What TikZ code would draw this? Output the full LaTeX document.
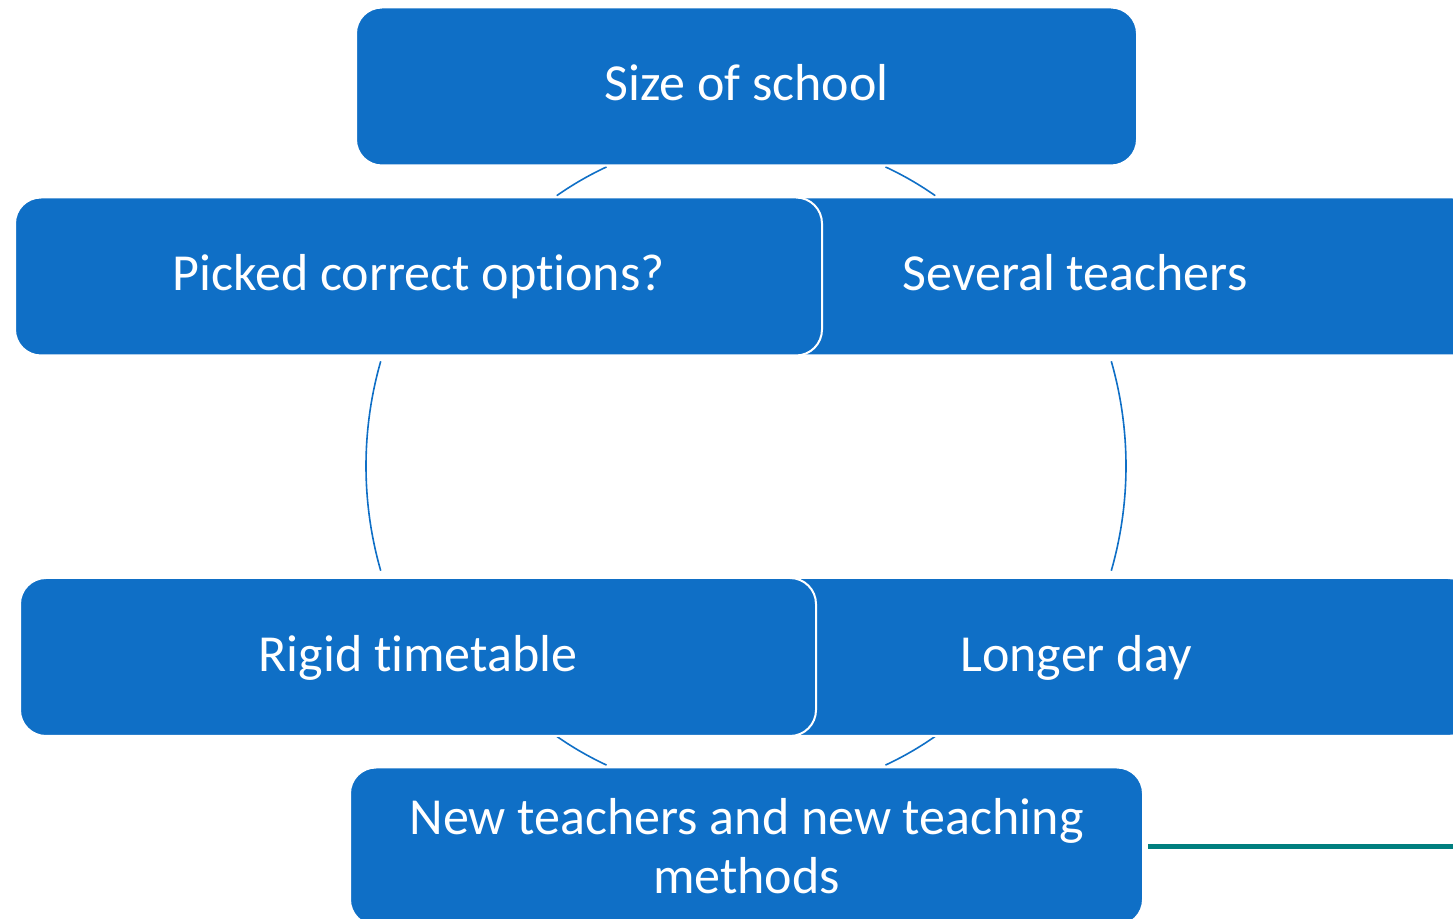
\documentclass[tikz,border=0pt]{standalone}
\usepackage{fontspec}
\setmainfont{Carlito}[Ligatures=NoCommon]
\usepackage{tikz}
\usetikzlibrary{calc,positioning}

\definecolor{cycblue}{HTML}{0F6FC6}
\definecolor{cycteal}{HTML}{007F7F}

\begin{document}
\begin{tikzpicture}[x=0.5pt,y=-0.5pt,
  box/.style={shape=rectangle,rounded corners=13pt,fill=cycblue,draw=white,line width=1pt,
    minimum height=79pt,text=white,align=center,inner sep=0pt,
    font=\fontsize{26}{29.5}\selectfont},
  oneline/.style={text height=20pt,text depth=5.5pt},
  link/.style={draw=cycblue,line width=0.8pt},
  stray/.style={draw=cycteal,line width=2.5pt}]
\clip (0,0) rectangle (1453,919);
\coordinate (c) at (746,466);
% arcs of the cycle
\draw[link] ($(c)+(164:190pt)$) arc[start angle=164,end angle=196,radius=190pt];
\draw[link] ($(c)+(-16:190pt)$) arc[start angle=-16,end angle=16,radius=190pt];
\draw[link] ($(c)+(115:165pt)$) arc[start angle=115,end angle=125,radius=165pt];
\draw[link] ($(c)+(55:165pt)$) arc[start angle=55,end angle=65,radius=165pt];
\draw[link] ($(c)+(235:165pt)$) arc[start angle=235,end angle=245,radius=165pt];
\draw[link] ($(c)+(295:165pt)$) arc[start angle=295,end angle=305,radius=165pt];
% boxes, in the order of the cycle
\node[box,oneline,minimum width=390.5pt] (size) at (746.5,86.5) {Size of school};
\node[box,oneline,minimum width=403.5pt] (several) at (1075,276.5) {Several teachers};
\node[box,oneline,minimum width=398pt] (longer) at (1076,657) {Longer day};
\node[box,minimum width=396.5pt] (newt) at (746.5,846.5) {New teachers and new teaching\\methods};
\node[box,oneline,minimum width=398pt] (rigid) at (418,657) {Rigid timetable};
\node[box,oneline,minimum width=403.5pt] (picked) at (418.5,276.5) {Picked correct options?};
\coordinate (rim) at (1460,846.5);
\draw[stray] ([xshift=2pt]newt.east) -- (rim);
\end{tikzpicture}
\end{document}
